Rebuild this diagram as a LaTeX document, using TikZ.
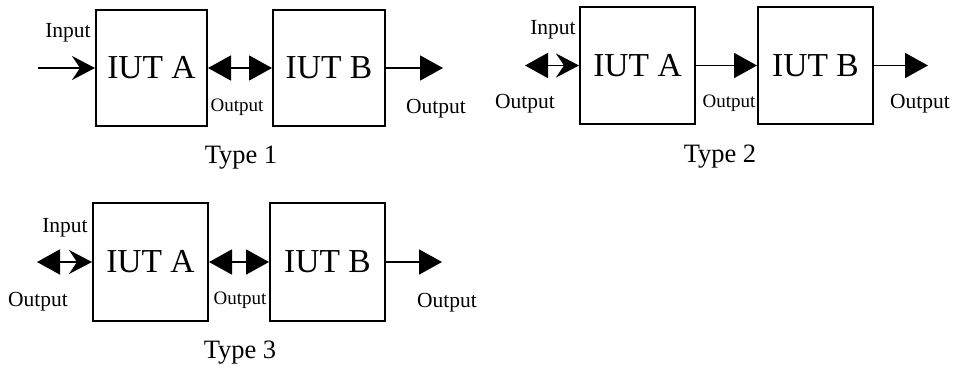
\documentclass[tikz,border=0pt]{standalone}
\usepackage{fontspec}
\setmainfont{Liberation Serif}
\usetikzlibrary{arrows.meta}
\tikzset{
  iut/.style={draw, line width=2pt, inner sep=0pt, font=\fontsize{33.5}{33.5}\selectfont},
  lbl/.style={anchor=base, inner sep=0pt, font=\fontsize{21.5}{21.5}\selectfont},
  slbl/.style={anchor=base, inner sep=0pt, font=\fontsize{19}{19}\selectfont},
  typecaption/.style={anchor=base, inner sep=0pt, font=\fontsize{26.5}{26.5}\selectfont},
  conn/.style={line width=1.8pt},
  ftip/.tip={Triangle[length=23pt,width=25pt]},
  stip/.tip={Stealth[length=23pt,width=24pt,inset=8pt]},
}
\begin{document}
\begin{tikzpicture}[x=1pt,y=-1pt]
\useasboundingbox (0,0) rectangle (961,368);
% ---------- Type 1 ----------
\node[iut, minimum width=111pt, minimum height=116pt] (a1) at (151.5,68) {IUT A};
\node[iut, minimum width=112pt, minimum height=116pt] (b1) at (329,68) {IUT B};
\coordinate (in1) at (38,68);
\coordinate (out1) at (443,68);
\draw[conn,-stip] (in1) -- (a1.west);
\draw[conn,ftip-ftip] (a1.east) -- (b1.west);
\draw[conn,-ftip] (b1.east) -- (out1);
\node[lbl] (l1a) at (68,37) {Input};
\node[slbl] (l1b) at (237,111) {Output};
\node[lbl] (l1c) at (436,113) {Output};
\node[typecaption] (t1) at (241,163) {Type 1};
% ---------- Type 2 ----------
\node[iut, minimum width=115pt, minimum height=117pt] (a2) at (637.5,65.5) {IUT A};
\node[iut, minimum width=115pt, minimum height=117pt] (b2) at (815.5,65.5) {IUT B};
\coordinate (in2) at (525,65.5);
\coordinate (out2) at (928,65.5);
\draw[conn,ftip-stip] (in2) -- (a2.west);
\draw[conn,-ftip] (a2.east) -- (b2.west);
\draw[conn,-ftip] (b2.east) -- (out2);
\node[lbl] (l2a) at (553,34) {Input};
\node[lbl] (l2b) at (525,108) {Output};
\node[slbl] (l2c) at (729,107) {Output};
\node[lbl] (l2d) at (920,108) {Output};
\node[typecaption] (t2) at (720,162) {Type 2};
% ---------- Type 3 ----------
\node[iut, minimum width=115pt, minimum height=118pt] (a3) at (150.5,262) {IUT A};
\node[iut, minimum width=115pt, minimum height=118pt] (b3) at (327.5,262) {IUT B};
\coordinate (in3) at (37,262);
\coordinate (out3) at (442,262);
\draw[conn,ftip-stip] (in3) -- (a3.west);
\draw[conn,ftip-ftip] (a3.east) -- (b3.west);
\draw[conn,-ftip] (b3.east) -- (out3);
\node[lbl] (l3a) at (65,232) {Input};
\node[lbl] (l3b) at (38,306) {Output};
\node[slbl] (l3c) at (240,304) {Output};
\node[lbl] (l3d) at (447,307) {Output};
\node[typecaption] (t3) at (240,358) {Type 3};
\end{tikzpicture}
\end{document}
